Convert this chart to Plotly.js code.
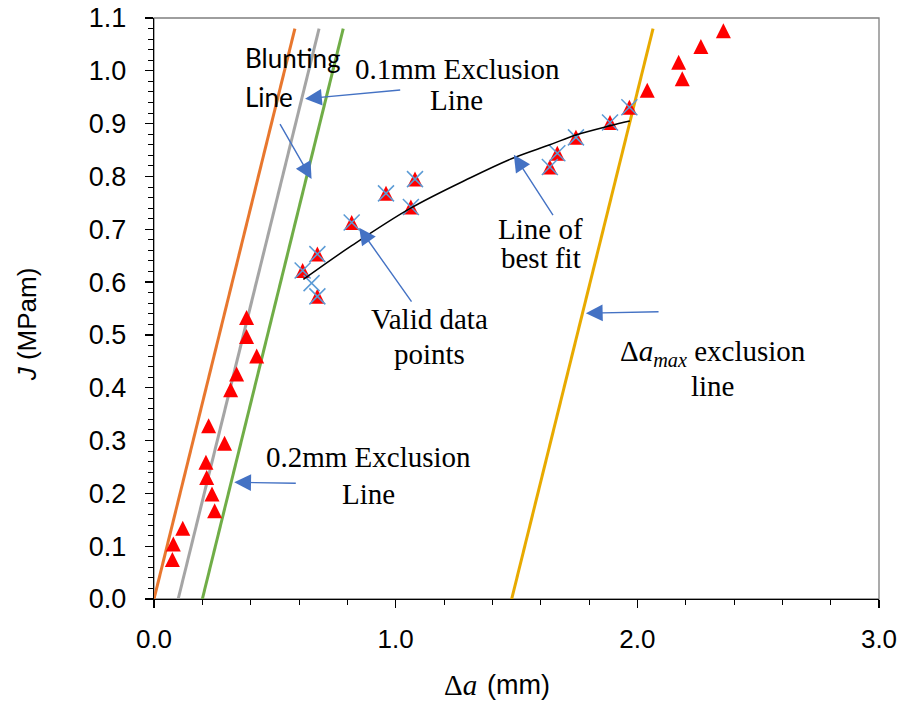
<!DOCTYPE html>
<html>
<head>
<meta charset="utf-8">
<script src="https://cdn.plot.ly/plotly-3.0.1.min.js"></script>
<style>
  html, body { margin: 0; padding: 0; background: #ffffff; }
  #chart { width: 902px; height: 702px; }
</style>
</head>
<body>
<div id="chart"></div>
<script>
// Construction lines of the J-R curve (crack extension in mm, J in MPa·m)
const bluntingDa = [0.0, 0.583];
const bluntingJ  = [0.0, 1.08];
const excl01Da   = [0.1, 0.683];
const excl01J    = [0.0, 1.08];
const excl02Da   = [0.2, 0.783];
const excl02J    = [0.0, 1.08];
const maxExclDa  = [1.48, 2.065];
const maxExclJ   = [0.0, 1.08];

// All measured points (red triangles)
const testDa = [0.076, 0.080, 0.119, 0.251, 0.240, 0.218, 0.215, 0.292, 0.226, 0.317,
                0.342, 0.425, 0.383, 0.383,
                0.615, 0.676, 0.676, 0.818, 0.960, 1.080, 1.063, 1.638, 1.669, 1.746,
                1.887, 1.967,
                2.041, 2.171, 2.186, 2.263, 2.356];
const testJ  = [0.075, 0.104, 0.134, 0.167, 0.199, 0.230, 0.259, 0.295, 0.328, 0.396,
                0.426, 0.460, 0.497, 0.533,
                0.622, 0.653, 0.573, 0.713, 0.768, 0.795, 0.742, 0.818, 0.844, 0.874,
                0.902, 0.931,
                0.963, 1.016, 0.985, 1.046, 1.076];

// Points retained between the exclusion lines (blue crosses)
const validDa = [0.615, 0.676, 0.652, 0.676, 0.818, 0.960, 1.080, 1.063, 1.638, 1.669,
                 1.746, 1.887, 1.967];
const validJ  = [0.622, 0.653, 0.598, 0.573, 0.713, 0.768, 0.795, 0.742, 0.818, 0.844,
                 0.874, 0.902, 0.931];

// Power-law fit through the valid points
const fitDa = [0.618, 0.818, 1.062, 1.307, 1.487, 1.638, 1.749, 1.887, 1.969];
const fitJ  = [0.605, 0.669, 0.740, 0.797, 0.835, 0.860, 0.879, 0.896, 0.905];

// Axis ticks
const xTicks = [0, 1, 2, 3];
const xTickText = ['0.0', '1.0', '2.0', '3.0'];
const yTicks = [0, 0.1, 0.2, 0.3, 0.4, 0.5, 0.6, 0.7, 0.8, 0.9, 1.0, 1.1];
const yTickText = ['0.0', '0.1', '0.2', '0.3', '0.4', '0.5', '0.6', '0.7', '0.8', '0.9', '1.0', '1.1'];

const SERIF = 'Liberation Serif, Times New Roman, serif';
const SANS = 'Liberation Sans, Arial, sans-serif';
const NARROW = 'Liberation Sans Narrow, Arial Narrow, Liberation Sans, sans-serif';
const HUMANIST = 'Lato, Carlito, Calibri, sans-serif';
const ARROW = '#4472C4';

function line(x, y, color) {
  return { x: x, y: y, type: 'scatter', mode: 'lines',
           line: { color: color, width: 3 }, hoverinfo: 'skip', showlegend: false };
}

const traces = [
  line(bluntingDa, bluntingJ, '#E8772E'),
  line(excl01Da, excl01J, '#A5A5A5'),
  line(excl02Da, excl02J, '#70AD47'),
  line(maxExclDa, maxExclJ, '#E8AA00'),
  // isosceles triangle marker: a down-arrow turned over and centred on the point
  { x: testDa, y: testJ, type: 'scatter', mode: 'markers', showlegend: false,
    marker: { symbol: 'arrow-down', angle: 180, size: 15, standoff: 7.5, color: '#FF0000',
              line: { width: 0 } } },
  { x: validDa, y: validJ, type: 'scatter', mode: 'markers', showlegend: false,
    marker: { symbol: 'x-thin-open', size: 16, color: '#5B9BD5',
              line: { color: '#5B9BD5', width: 1.5 } } },
  { x: fitDa, y: fitJ, type: 'scatter', mode: 'lines', showlegend: false,
    line: { color: '#000000', width: 1.5, shape: 'spline' } }
];

// Arrows: [tipX, tipY, tailX, tailY]
const arrows = [
  [0.625, 0.947, 1.025, 0.964],
  [0.652, 0.795, 0.518, 0.902],
  [0.849, 0.703, 1.070, 0.560],
  [1.489, 0.841, 1.655, 0.724],
  [1.787, 0.541, 2.094, 0.544],
  [0.332, 0.221, 0.593, 0.219]
];

function label(x, y, text, font, size, anchor) {
  return { x: x, y: y, xref: 'x', yref: 'y', text: text, showarrow: false,
           xanchor: anchor || 'center', yanchor: 'middle',
           font: { family: font, size: size, color: '#000000' } };
}

const annotations = arrows.map(a => ({
  x: a[0], y: a[1], ax: a[2], ay: a[3], xref: 'x', yref: 'y', axref: 'x', ayref: 'y',
  text: '', showarrow: true, arrowhead: 2, arrowsize: 2.4, arrowwidth: 1.4,
  arrowcolor: ARROW, standoff: 0
})).concat([
  label(0.368, 1.025, 'Blunting', HUMANIST, 26, 'left'),
  label(0.368, 0.951, 'Line', HUMANIST, 26, 'left'),
  label(1.256, 1.004, '0.1mm Exclusion', SERIF, 29),
  label(1.252, 0.945, 'Line', SERIF, 29),
  label(1.141, 0.531, 'Valid data', SERIF, 29),
  label(1.138, 0.463, 'points', SERIF, 29),
  label(1.601, 0.701, 'Line of', SERIF, 29),
  label(1.601, 0.645, 'best fit', SERIF, 29),
  label(2.313, 0.466, 'Δ<i>a</i><sub><i>max</i></sub> exclusion', SERIF, 29),
  label(2.314, 0.404, 'line', SERIF, 29),
  label(0.887, 0.268, '0.2mm Exclusion', SERIF, 29),
  label(0.886, 0.199, 'Line', SERIF, 29),
  // x-axis title: serif symbol followed by the unit in a narrow sans
  { x: 0.448, y: -0.148, xref: 'paper', yref: 'paper', showarrow: false,
    xanchor: 'right', yanchor: 'middle', text: 'Δ<i>a</i>',
    font: { family: SERIF, size: 29, color: '#000000' } },
  { x: 0.457, y: -0.148, xref: 'paper', yref: 'paper', showarrow: false,
    xanchor: 'left', yanchor: 'middle', text: '(mm)',
    font: { family: NARROW, size: 27, color: '#000000' } },
  // y-axis title
  { x: -0.175, y: 0.473, xref: 'paper', yref: 'paper', showarrow: false,
    xanchor: 'center', yanchor: 'middle', textangle: -90, text: '<i>J</i> (MPam)',
    font: { family: SANS, size: 26, color: '#000000' } }
]);

const layout = {
  width: 902, height: 702,
  margin: { l: 154, r: 23, t: 18, b: 103 },
  paper_bgcolor: '#ffffff', plot_bgcolor: '#ffffff',
  showlegend: false,
  xaxis: {
    range: [0, 3], tickvals: xTicks, ticktext: xTickText,
    showgrid: false, zeroline: false,
    showline: true, linecolor: '#000000', linewidth: 1.3,
    ticks: 'outside', ticklen: 8, tickwidth: 1.3, tickcolor: '#000000',
    minor: { dtick: 0.2, tick0: 0, ticks: 'outside', ticklen: 5, tickwidth: 1, tickcolor: '#000000', showgrid: false },
    tickfont: { family: NARROW, size: 26, color: '#000000' },
    ticklabelstandoff: 8
  },
  yaxis: {
    range: [0, 1.1], tickvals: yTicks, ticktext: yTickText,
    showgrid: false, zeroline: false,
    showline: true, linecolor: '#000000', linewidth: 1.3,
    ticks: 'outside', ticklen: 8, tickwidth: 1.3, tickcolor: '#000000',
    minor: { dtick: 0.02, tick0: 0, ticks: 'outside', ticklen: 5, tickwidth: 1, tickcolor: '#000000', showgrid: false },
    tickfont: { family: SANS, size: 27, color: '#000000' },
    ticklabelstandoff: 13
  },
  shapes: [
    { type: 'rect', xref: 'paper', yref: 'paper', x0: 0, x1: 1, y0: 0, y1: 1,
      line: { color: '#7F7F7F', width: 1.3 }, layer: 'below' }
  ],
  annotations: annotations
};

Plotly.newPlot('chart', traces, layout, { staticPlot: true, displayModeBar: false });
</script>
</body>
</html>
